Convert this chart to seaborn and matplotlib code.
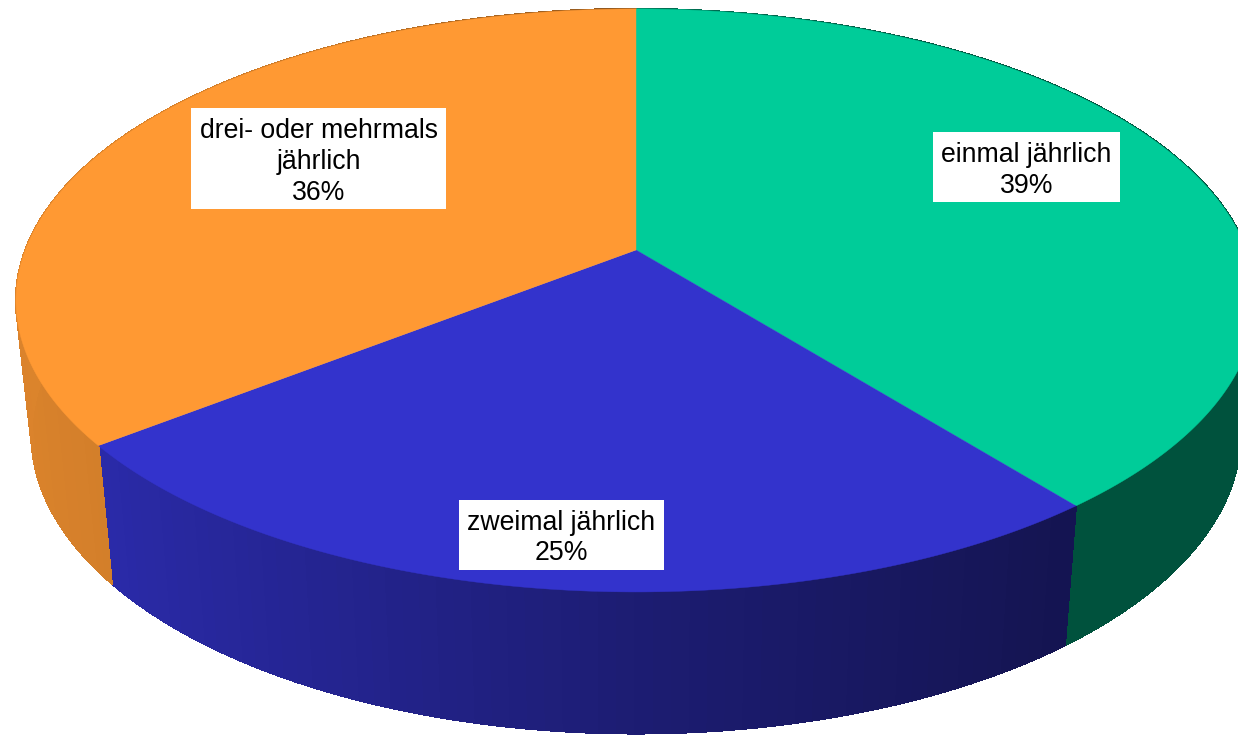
import numpy as np
import matplotlib
matplotlib.use("Agg")
import matplotlib.pyplot as plt
from matplotlib.collections import PolyCollection
from matplotlib.patches import Rectangle
import seaborn as sns

# Data
categories = ["einmal jährlich", "zweimal jährlich", "drei- oder mehrmals\njährlich"]
slice_shares = [39.3, 25.1, 35.6]
share_labels = ["39%", "25%", "36%"]
slice_colors = ["#00CC99", "#3333CC", "#FF9933"]
label_centers = [(1026.5, 170), (561.5, 538), (318.5, 161.5)]

sns.set_theme(style="white")
plt.rcParams["font.family"] = ["Liberation Sans", "DejaVu Sans"]
palette = sns.color_palette(slice_colors)

# Perspective model of the disc, in image pixels
CX, CY = 636.0, 250.0
K = 0.173
A, B = 610.7, 282.8
XS, YS, CY_LOW = 0.975, 1.025, 383.0


def project(theta, low=False):
    u, v = np.sin(theta), np.cos(theta)
    d = 1 + K * v
    x, y = A * u / d, B * v / d
    if low:
        return CX + XS * x, CY_LOW - YS * y
    return CX + x, CY - y


def shade(theta):
    return np.interp(np.sin(theta), [-1, -0.8, 0, 0.6, 1], [0.86, 0.83, 0.56, 0.40, 0.40])


fig, ax = plt.subplots(figsize=(12.38, 7.35), dpi=100)
fig.subplots_adjust(0, 0, 1, 1)
ax.set_xlim(0, 1238)
ax.set_ylim(735, 0)
ax.axis("off")

fractions = np.array(slice_shares, dtype=float) / np.sum(slice_shares)
edges = np.concatenate([[0], np.cumsum(fractions)]) * 2 * np.pi

# Side wall, drawn as narrow shaded strips
for start, stop, color in zip(edges[:-1], edges[1:], palette):
    n = max(int((stop - start) * 40), 8)
    th = np.linspace(start, stop, n + 1)
    xu, yu = project(th)
    xl, yl = project(th, low=True)
    quads, faces = [], []
    for i in range(n):
        quads.append([(xu[i], yu[i]), (xu[i + 1], yu[i + 1]), (xl[i + 1], yl[i + 1]), (xl[i], yl[i])])
        f = shade((th[i] + th[i + 1]) / 2)
        faces.append(tuple(c * f for c in color))
    ax.add_collection(PolyCollection(quads, facecolors=faces, edgecolors=faces,
                                     linewidths=0.8, antialiaseds=False))

# Top face
for start, stop, color in zip(edges[:-1], edges[1:], palette):
    th = np.linspace(start, stop, 200)
    xu, yu = project(th)
    ax.fill(np.r_[CX, xu], np.r_[CY, yu], color=color, lw=0.3, zorder=3)

# Labels: white box measured from the text, with more room above than below
renderer = fig.canvas.get_renderer()
for name, share, (lx, ly) in zip(categories, share_labels, label_centers):
    t = ax.text(lx, ly, f"{name}\n{share}", ha="center", va="center", multialignment="center",
                fontsize=19.2, color="black", linespacing=1.25, zorder=5)
    bb = t.get_window_extent(renderer=renderer).transformed(ax.transData.inverted())
    x0, x1 = min(bb.x0, bb.x1) - 8.5, max(bb.x0, bb.x1) + 8.5
    y0, y1 = min(bb.y0, bb.y1) - 9.5, max(bb.y0, bb.y1) + 3.5
    ax.add_patch(Rectangle((x0, y0), x1 - x0, y1 - y0, facecolor="white", edgecolor="none", zorder=4))

fig.savefig("out.png", dpi=100, facecolor="white")
